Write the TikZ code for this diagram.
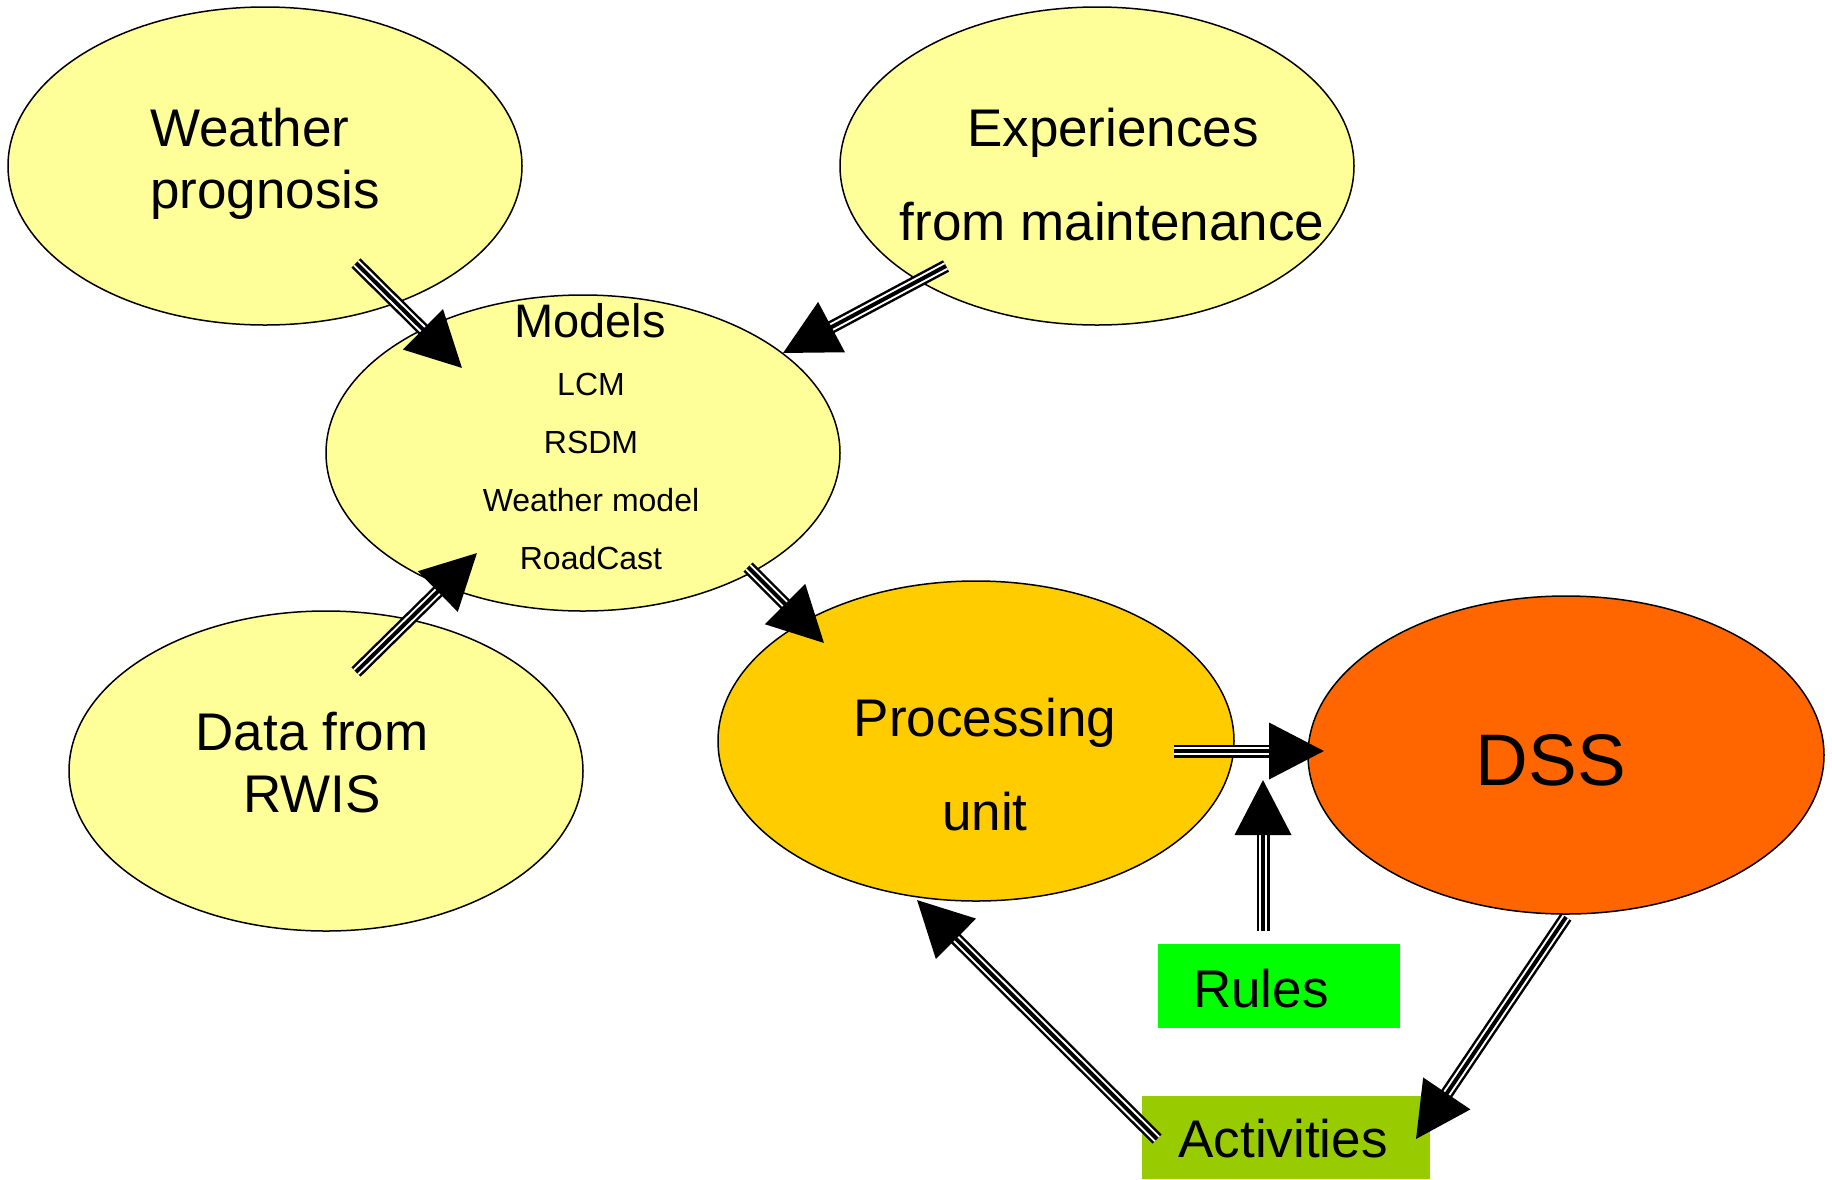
\documentclass[tikz,border=0pt]{standalone}
\usepackage{fontspec}
\setmainfont{Liberation Sans}
\usetikzlibrary{arrows.meta}
\definecolor{lyel}{HTML}{FFFF99}
\definecolor{proc}{HTML}{FFCC00}
\definecolor{dssc}{HTML}{FF6600}
\definecolor{rulc}{HTML}{00FF00}
\definecolor{actc}{HTML}{99CC00}
\tikzset{
  ell/.style={draw=black, line width=1.5pt, ellipse, inner sep=0pt},
  bigtxt/.style={anchor=base, inner sep=0pt, font=\fontsize{53}{60}\selectfont},
  modtxt/.style={anchor=base, inner sep=0pt, font=\fontsize{47}{54}\selectfont},
  smalltxt/.style={anchor=base, inner sep=0pt, font=\fontsize{32}{38}\selectfont},
  tri/.style={
    preaction={draw, black, line width=13pt, shorten >=48pt, arrows=-},
    preaction={draw, white, line width=8pt, shorten >=48pt, arrows=-},
    draw, black, line width=4pt, -{Triangle[length=55pt,width=56pt]}}
}
\usetikzlibrary{shapes.geometric}
\begin{document}
\begin{tikzpicture}[x=1pt,y=-1pt]
\useasboundingbox (0,0) rectangle (1832,1179);
% ellipses
\node[ell, fill=lyel, minimum width=514pt, minimum height=318pt] (wp) at (265,166) {};
\node[ell, fill=lyel, minimum width=514pt, minimum height=318pt] (ex) at (1097,166) {};
\node[ell, fill=lyel, minimum width=514pt, minimum height=316pt] (mo) at (583,453) {};
\node[ell, fill=lyel, minimum width=514pt, minimum height=320pt] (rw) at (326,771) {};
\node[ell, fill=proc, minimum width=516pt, minimum height=320pt] (pu) at (976,741) {};
\node[ell, fill=dssc, minimum width=516pt, minimum height=318pt] (ds) at (1566,755) {};
% boxes
\fill[rulc] (1158,944) rectangle (1400,1028);
\node[inner sep=0pt, minimum width=242pt, minimum height=84pt] (ru) at (1279,986) {};
\fill[actc] (1142,1096) rectangle (1430,1179);
\node[inner sep=0pt, minimum width=288pt, minimum height=83pt] (ac) at (1286,1137) {};
% texts
\node[bigtxt, anchor=base west] (t1) at (150,146) {Weather};
\node[bigtxt, anchor=base west] (t2) at (150,208) {prognosis};
\node[bigtxt] (t3) at (1113,146) {Experiences};
\node[bigtxt] (t4) at (1112,240) {from maintenance};
\node[modtxt] (t5) at (590,337) {Models};
\node[smalltxt] (t6) at (591,395) {LCM};
\node[smalltxt] (t7) at (591,453) {RSDM};
\node[smalltxt] (t8) at (591,511) {Weather model};
\node[smalltxt] (t9) at (591,569) {RoadCast};
\node[bigtxt] (t10) at (312,750) {Data from};
\node[bigtxt] (t11) at (312,812) {RWIS};
\node[bigtxt] (t12) at (985,736) {Processing};
\node[bigtxt] (t13) at (985,830) {unit};
\node[bigtxt, font=\fontsize{73}{80}\selectfont] (t14) at (1551,785) {DSS};
\node[bigtxt] (t15) at (1261,1007) {Rules};
\node[bigtxt] (t16) at (1283,1157) {Activities};
% connector end points
\coordinate (a1s) at (356,263); \coordinate (a1e) at (462,368);
\coordinate (a2s) at (946,266); \coordinate (a2e) at (783,353);
\coordinate (a3s) at (356,672); \coordinate (a3e) at (477,553);
\coordinate (a4s) at (748,567); \coordinate (a4e) at (824,643);
\coordinate (a5s) at (1174,751); \coordinate (a5e) at (1324,751);
\coordinate (a6s) at (1263,931); \coordinate (a6e) at (1263,780);
\coordinate (a7s) at (1157,1139); \coordinate (a7e) at (917,900);
\coordinate (a8s) at (1566,917); \coordinate (a8e) at (1416,1139);
% connectors
\draw[tri] (a1s) -- (a1e);
\draw[tri] (a2s) -- (a2e);
\draw[tri] (a3s) -- (a3e);
\draw[tri] (a4s) -- (a4e);
\draw[tri] (a5s) -- (a5e);
\draw[tri] (a6s) -- (a6e);
\draw[tri] (a7s) -- (a7e);
\draw[tri] (a8s) -- (a8e);
\end{tikzpicture}
\end{document}
